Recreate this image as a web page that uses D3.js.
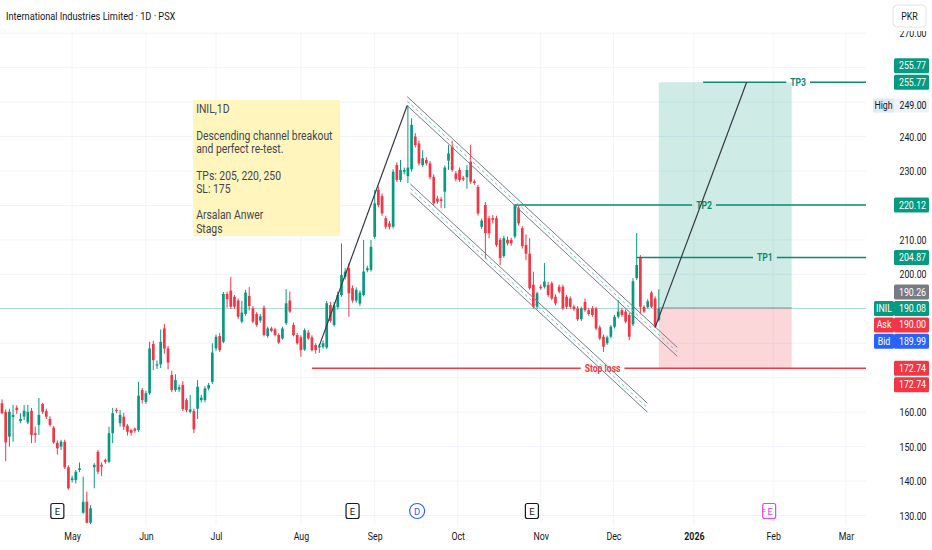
<!DOCTYPE html>
<html>
<head>
<meta charset="utf-8">
<script src="https://cdn.jsdelivr.net/npm/d3@7"></script>
<style>
  html, body { margin: 0; padding: 0; background: #fff; }
  svg { display: block; font-family: Roboto, "Noto Sans", sans-serif; }
</style>
</head>
<body>
<div id="chart"></div>
<script>
// ---- Data (daily bars, index 0 = first visible bar) ----
const opens = [
  162.6,160.1,152.9,158.6,161.3,157.4,158.7,157.0,160.4,153.9,156.3,162.4,160.3,158.0,155.5,151.1,150.0,151.4,144.0,140.3,
  140.3,143.2,130.8,134.0,127.9,144.0,148.5,144.7,146.1,145.6,153.9,160.6,156.8,158.7,156.1,154.8,155.2,154.8,166.4,163.0,
  165.5,179.8,173.5,173.9,184.3,178.5,170.8,166.4,166.6,167.9,163.5,160.1,160.3,161.0,163.5,163.5,166.9,168.8,178.5,182.1,
  180.4,194.3,195.3,193.5,192.4,186.3,188.5,193.7,190.1,188.5,186.6,190.3,182.1,184.3,184.0,182.4,181.4,185.8,192.4,185.3,
  182.4,181.7,178.2,183.1,181.7,179.5,178.8,179.0,178.8,191.1,185.3,190.5,194.0,199.3,201.8,196.0,192.4,191.5,194.0,201.2,
  201.3,210.9,224.5,222.7,216.3,214.8,213.8,231.7,227.4,229.8,228.5,230.5,240.0,238.0,231.7,233.2,232.2,228.3,222.0,221.8,
  224.0,233.0,237.0,229.3,230.3,228.0,228.2,232.7,227.0,225.4,213.8,220.1,216.3,216.3,216.3,210.0,205.3,210.0,210.0,211.0,
  219.2,213.4,208.5,206.0,197.0,190.6,196.4,196.4,196.9,197.4,193.5,196.4,196.4,193.5,193.0,190.6,190.1,187.0,192.0,189.6,
  190.1,190.1,184.6,181.9,180.0,181.9,184.8,187.7,189.6,189.2,188.2,185.5,198.9,205.0,190.5,190.5,194.7,193.0,186.7
];
const highs = [
  163.7,160.8,161.0,162.1,162.0,159.7,162.1,162.1,161.2,155.8,164.1,162.7,161.0,158.8,156.0,151.8,152.0,152.0,144.6,141.5,
  143.2,145.4,141.3,136.9,133.0,145.2,149.0,145.4,146.5,155.8,161.2,161.2,160.6,159.8,156.6,155.2,155.5,168.8,167.0,166.2,
  180.4,180.7,175.0,184.0,185.6,179.2,172.0,171.0,168.0,169.0,164.0,165.0,161.0,169.3,165.0,167.5,168.5,180.0,182.5,183.0,
  194.9,195.0,199.3,194.0,193.0,192.3,195.5,196.3,190.8,189.0,188.5,191.0,184.8,184.8,184.5,182.9,184.8,195.7,195.0,186.0,
  183.0,182.3,184.3,183.8,182.3,180.0,179.8,180.8,192.3,192.0,192.0,195.0,209.0,201.8,203.3,196.8,196.2,195.3,210.0,202.5,
  210.0,224.5,225.5,223.5,217.0,215.5,230.5,232.5,233.2,231.0,249.0,245.3,241.0,238.8,236.0,234.0,232.9,229.0,222.8,222.5,
  231.6,237.5,238.8,230.0,231.0,228.6,231.8,237.6,227.6,226.0,216.2,221.0,217.0,217.2,217.0,210.6,211.2,211.0,210.6,220.4,
  220.0,214.0,211.6,210.5,200.8,195.0,197.0,203.3,197.8,198.0,194.2,197.0,197.0,194.0,193.6,191.2,190.8,190.6,193.0,190.2,
  190.8,190.6,185.2,182.5,182.2,185.3,188.2,192.5,190.2,189.8,188.8,198.9,212.0,205.6,191.0,192.8,195.2,193.6,195.7
];
const lows = [
  159.4,145.8,150.0,151.4,159.5,156.8,157.7,156.5,151.0,151.1,153.4,159.5,158.0,155.8,150.8,147.7,149.0,143.5,137.5,139.6,
  139.3,142.6,130.5,127.7,127.5,137.9,142.0,141.4,145.0,145.2,151.0,159.7,155.8,154.8,153.2,153.2,154.0,154.3,162.5,162.4,
  165.0,172.2,172.5,172.8,177.0,172.4,165.8,165.9,165.8,160.3,160.0,159.6,153.9,158.0,162.8,162.9,166.3,168.2,177.8,177.5,
  180.0,190.3,190.0,190.0,187.0,185.8,188.0,189.5,185.8,184.8,186.0,182.0,181.6,183.2,182.0,179.8,181.0,185.3,188.8,182.0,
  179.6,176.1,177.8,181.0,177.6,177.0,177.2,178.5,178.3,186.0,184.8,189.8,193.5,198.5,187.7,191.8,191.8,190.8,193.6,200.6,
  200.8,210.3,219.5,217.0,213.2,213.0,213.3,226.8,226.8,229.0,226.5,229.8,236.8,231.6,231.2,231.6,227.6,220.0,220.5,219.3,
  219.2,230.3,229.8,227.0,226.8,227.0,224.9,226.3,226.0,217.1,213.2,204.5,210.5,214.8,208.0,202.7,204.8,208.4,208.3,210.4,
  214.2,207.5,204.1,195.5,190.0,190.0,195.5,195.9,193.5,192.5,191.0,194.5,189.6,190.0,190.0,189.4,186.5,186.5,189.1,188.0,
  187.7,183.8,180.9,177.5,179.5,181.4,184.3,187.2,187.7,185.8,180.9,185.0,198.4,188.4,188.8,190.0,190.2,184.4,186.3
];
const closes = [
  159.7,151.2,160.1,159.2,160.6,158.0,160.4,160.1,153.4,153.4,159.2,160.1,158.7,156.3,151.2,149.5,151.4,144.0,137.9,140.8,
  142.7,143.7,134.0,127.9,132.1,144.7,142.7,144.2,145.6,153.9,159.7,160.3,159.2,155.8,154.3,154.0,154.6,164.8,163.5,165.5,
  178.5,175.1,173.9,180.4,178.5,174.4,166.4,169.3,167.2,160.9,160.6,160.8,155.0,167.4,164.2,166.9,167.9,177.3,181.9,178.0,
  194.3,192.8,190.6,190.6,187.7,188.9,194.7,190.8,186.3,185.3,187.8,182.4,184.3,183.6,182.4,180.2,184.3,191.6,189.2,182.4,
  180.0,178.0,183.8,181.4,178.0,178.0,179.3,180.0,191.6,186.5,191.0,194.0,199.8,200.8,194.5,192.4,195.5,194.7,200.8,201.8,
  208.0,220.6,220.1,217.7,213.8,213.8,229.8,227.4,230.3,230.3,231.0,243.4,237.5,232.2,233.7,232.2,228.2,220.6,221.1,221.3,
  231.0,235.1,230.3,227.6,227.4,227.6,230.3,226.9,226.5,217.7,215.6,212.0,211.9,215.8,208.5,204.7,210.5,209.0,209.0,220.1,
  214.8,208.2,206.0,196.0,190.6,194.5,196.0,197.9,194.0,193.0,191.6,195.0,190.1,190.6,190.6,189.9,187.0,190.1,189.6,188.5,
  188.2,184.3,181.4,179.0,181.7,184.8,187.7,189.2,188.2,186.3,181.9,198.0,202.7,190.6,189.2,192.2,190.6,184.8,190.08
];

// time axis: month labels and the bar index where each one sits
const monthLabels = ["May", "Jun", "Jul", "Aug", "Sep", "Oct", "Nov", "Dec", "2026", "Feb", "Mar"];
const monthIdx = [19, 39, 58, 81, 101, 123.5, 146, 165.7, 187.5, 209, 228.7];

// price axis
const priceTicks = d3.range(130, 271, 10);
const tagValues = [255.77, 255.77, 220.12, 204.87, 190.26, 190.08, 190.00, 189.99, 172.74, 172.74];
const tagNames = ["", "", "", "", "", "INIL", "Ask", "Bid", "", ""];
const tagKinds = ["target", "target", "target", "target", "entry", "last", "ask", "bid", "stop", "stop"];
const highValue = 249.00;
const lastPrice = 190.08;

// horizontal levels drawn on the chart
const levelNames = ["TP3", "TP2", "TP1", "Stop loss"];
const levelPrices = [255.77, 220.12, 204.87, 172.74];
const levelStartIdx = [190, 139, 172, 84];
const levelKinds = ["target", "target", "target", "stop"];

// long position tool
const positionIdx = [178, 214];
const entryPrice = 190.26, targetPrice = 255.77, stopPrice = 172.74;

// trend lines [idx, price]
const impulseLine = [[86, 179.3], [109.8, 249.0]];
const projectionLine = [[177, 184.6], [201.8, 255.77]];
const upperBand = [[109.8, 251.6], [183, 178.8]];
const lowerBand = [[110.7, 226.2], [174.9, 162.6]];
const bandWidth = 2.6;

// note
const noteAnchor = [51.8, 250.6];
const noteLines = ["INIL,1D", "", "Descending channel breakout", "and perfect re-test.", "",
                   "TPs: 205, 220, 250", "SL: 175", "", "Arsalan Anwer", "Stags"];

// event markers on the time axis
const eventIdx = [15, 95, 112.5, 143.6, 207.9];
const eventTypes = ["earnings", "earnings", "dividend", "earnings", "upcoming"];

// ---- Drawing ----
const width = 932, height = 550;
const plotRight = 866, plotTop = 31, plotBottom = 525;
const barStep = 3.69;
const up = "#089981", down = "#f23645";
const levelGreen = "#0a8a70";
const kindColor = { target: "#089981", entry: "#787b86", last: "#089981", ask: "#f23645", bid: "#2962ff", stop: "#f23645" };

const svg = d3.select("#chart").append("svg")
  .attr("width", width).attr("height", height);
svg.append("rect").attr("width", width).attr("height", height).attr("fill", "#fff");

const x = d3.scaleLinear().domain([0, 234]).range([2, 2 + 234 * barStep]);
const y = d3.scaleLinear().domain([130, 270]).range([515.5, 33.2]);

// narrow the glyphs the way the screenshot shows them
function squeeze(sel, k = 0.8) {
  sel.each(function () {
    const w = this.getComputedTextLength();
    if (w > 0) d3.select(this).attr("textLength", w * k).attr("lengthAdjust", "spacingAndGlyphs");
  });
  return sel;
}

svg.append("clipPath").attr("id", "plotClip")
  .append("rect").attr("x", 0).attr("y", plotTop).attr("width", plotRight).attr("height", plotBottom - plotTop);

const plot = svg.append("g").attr("clip-path", "url(#plotClip)");

// grid
plot.append("g").selectAll("line").data(priceTicks).join("line")
  .attr("x1", 0).attr("x2", plotRight)
  .attr("y1", d => y(d)).attr("y2", d => y(d))
  .attr("stroke", "#f0f3fa").attr("stroke-width", 1);
plot.append("g").selectAll("line").data(monthIdx).join("line")
  .attr("x1", d => x(d)).attr("x2", d => x(d))
  .attr("y1", plotTop).attr("y2", plotBottom)
  .attr("stroke", "#f3f4f8").attr("stroke-width", 1);

// last price line
plot.append("line")
  .attr("x1", 0).attr("x2", plotRight)
  .attr("y1", y(lastPrice)).attr("y2", y(lastPrice))
  .attr("stroke", up).attr("stroke-opacity", 0.3).attr("stroke-width", 1);

// position tool
const px0 = x(positionIdx[0]), px1 = x(positionIdx[1]);
plot.append("rect")
  .attr("x", px0).attr("width", px1 - px0)
  .attr("y", y(targetPrice)).attr("height", y(entryPrice) - y(targetPrice))
  .attr("fill", up).attr("fill-opacity", 0.2);
plot.append("rect")
  .attr("x", px0).attr("width", px1 - px0)
  .attr("y", y(entryPrice)).attr("height", y(stopPrice) - y(entryPrice))
  .attr("fill", down).attr("fill-opacity", 0.2);
plot.append("line")
  .attr("x1", px0).attr("x2", px1)
  .attr("y1", y(entryPrice)).attr("y2", y(entryPrice))
  .attr("stroke", "#9598a1").attr("stroke-width", 1);

// candles
const candles = closes.map((c, i) => ({ i, o: opens[i], h: highs[i], l: lows[i], c }));
const gC = plot.append("g");
gC.selectAll("line").data(candles).join("line")
  .attr("x1", d => x(d.i)).attr("x2", d => x(d.i))
  .attr("y1", d => y(d.h)).attr("y2", d => y(d.l))
  .attr("stroke", d => d.c >= d.o ? up : down)
  .attr("stroke-width", 1);
gC.selectAll("rect").data(candles).join("rect")
  .attr("x", d => x(d.i) - 1.35).attr("width", 2.7)
  .attr("y", d => y(Math.max(d.o, d.c)))
  .attr("height", d => Math.max(1, Math.abs(y(d.o) - y(d.c))))
  .attr("fill", d => d.c >= d.o ? up : down);

// horizontal levels with their labels
const levelEndX = x(241.5);
const gL = plot.append("g");
levelNames.forEach((name, k) => {
  const yy = y(levelPrices[k]);
  const xs = x(levelStartIdx[k]);
  const cx = (xs + levelEndX) / 2;
  const col = levelKinds[k] === "stop" ? down : levelGreen;
  const t = gL.append("text")
    .attr("x", cx).attr("y", yy)
    .attr("text-anchor", "middle").attr("dominant-baseline", "central")
    .attr("font-size", 11).attr("font-weight", "bold").attr("fill", col)
    .text(name);
  const w = t.node().getComputedTextLength() * 0.78;
  squeeze(t, 0.78);
  const half = w / 2 + 4;
  [[xs, cx - half], [cx + half, levelEndX]].forEach(seg => {
    gL.append("line")
      .attr("x1", seg[0]).attr("x2", seg[1]).attr("y1", yy).attr("y2", yy)
      .attr("stroke", col).attr("stroke-width", 1.4);
  });
});

// channel bands
const line = d3.line().x(d => x(d[0])).y(d => y(d[1]));
const shift = (pts, dp) => pts.map(p => [p[0], p[1] + dp]);
[upperBand, lowerBand].forEach(band => {
  plot.append("path").attr("d", line(band))
    .attr("fill", "none").attr("stroke", "#787b86").attr("stroke-width", 1);
  plot.append("path").attr("d", line(shift(band, -bandWidth)))
    .attr("fill", "none").attr("stroke", "#787b86").attr("stroke-width", 1);
  plot.append("path").attr("d", line(shift(band, -bandWidth / 2)))
    .attr("fill", "none").attr("stroke", "#6cc9bd").attr("stroke-width", 1)
    .attr("stroke-dasharray", "3,3");
});

// trend lines
[impulseLine, projectionLine].forEach(l => {
  plot.append("path").attr("d", line(l))
    .attr("fill", "none").attr("stroke", "#363a45").attr("stroke-width", 1.2);
});

// note box
const nx = x(noteAnchor[0]), ny = y(noteAnchor[1]);
plot.append("rect")
  .attr("x", nx).attr("y", ny).attr("width", 147).attr("height", 136)
  .attr("fill", "#fff5bd");
const noteText = plot.append("g").selectAll("text").data(noteLines).join("text")
  .attr("x", nx + 3)
  .attr("y", (d, i) => ny + 13 + i * 13.3)
  .attr("font-size", 12.5).attr("fill", "#434651")
  .text(d => d);
squeeze(noteText.filter(d => d.length > 0), 0.83);

// event markers
const evY = 511;
const gE = svg.append("g");
eventIdx.forEach((ei, k) => {
  const ex = x(ei);
  const type = eventTypes[k];
  if (type === "dividend") {
    gE.append("circle").attr("cx", ex).attr("cy", evY).attr("r", 7.5)
      .attr("fill", "#fff").attr("stroke", "#2962ff").attr("stroke-width", 1.2);
    gE.append("text").attr("x", ex).attr("y", evY).attr("text-anchor", "middle")
      .attr("dominant-baseline", "central").attr("font-size", 9.5).attr("fill", "#2962ff").text("D");
  } else {
    const col = type === "upcoming" ? "#e040fb" : "#131722";
    gE.append("rect").attr("x", ex - 6.5).attr("y", evY - 7.5).attr("width", 13).attr("height", 15)
      .attr("rx", 2).attr("fill", "#fff").attr("stroke", col).attr("stroke-width", 1.2);
    gE.append("text").attr("x", ex + (type === "upcoming" ? 1 : 0)).attr("y", evY)
      .attr("text-anchor", "middle").attr("dominant-baseline", "central")
      .attr("font-size", 9.5).attr("fill", col).text("E");
    if (type === "upcoming") {
      gE.append("text").attr("x", ex - 5).attr("y", evY).attr("text-anchor", "middle")
        .attr("dominant-baseline", "central").attr("font-size", 7).attr("fill", col).text("=");
    }
  }
});

// time axis
const xAxis = svg.append("g")
  .attr("transform", `translate(0,${plotBottom + 3})`)
  .call(d3.axisBottom(x).tickValues(monthIdx).tickFormat((d, i) => monthLabels[i]).tickSize(0).tickPadding(4));
xAxis.select(".domain").remove();
xAxis.selectAll("text")
  .attr("font-size", 11).attr("font-family", "Roboto, 'Noto Sans', sans-serif")
  .attr("fill", "#131722")
  .attr("font-weight", (d, i) => monthLabels[i] === "2026" ? "bold" : "normal");
squeeze(xAxis.selectAll("text"));

// price axis panel
svg.append("rect").attr("x", plotRight).attr("y", 0).attr("width", width - plotRight).attr("height", height)
  .attr("fill", "#fff");

const tagSlot = [-1, 0, 0, 0, -1, 0, 1, 2, 0, 1];
const slotStep = 16.4;
const tagY = tagValues.map((v, k) => {
  const base = (tagKinds[k] === "entry" || tagKinds[k] === "ask" || tagKinds[k] === "bid") ? y(lastPrice) : y(v);
  return base + tagSlot[k] * slotStep;
});
const occupied = tagY.concat([y(highValue)]);

const yAxis = svg.append("g")
  .attr("transform", `translate(${plotRight},0)`)
  .call(d3.axisRight(y).tickValues(priceTicks.filter(t => occupied.every(o => Math.abs(y(t) - o) >= 13)))
    .tickFormat(d3.format(".2f")).tickSize(0).tickPadding(47));
yAxis.select(".domain").remove();
yAxis.selectAll("text")
  .attr("text-anchor", "middle").attr("font-size", 11)
  .attr("font-family", "Roboto, 'Noto Sans', sans-serif").attr("fill", "#131722");
squeeze(yAxis.selectAll("text"));

// high marker
const hy = y(highValue);
svg.append("rect").attr("x", 873).attr("y", hy - 7).attr("width", 56).attr("height", 14).attr("fill", "#eef2fa");
svg.append("rect").attr("x", 873).attr("y", hy - 7).attr("width", 21).attr("height", 14).attr("fill", "#e1e9f7");
squeeze(svg.append("text").attr("x", 883.5).attr("y", hy).attr("text-anchor", "middle")
  .attr("dominant-baseline", "central").attr("font-size", 11).attr("fill", "#131722").text("High"));
squeeze(svg.append("text").attr("x", 913).attr("y", hy).attr("text-anchor", "middle")
  .attr("dominant-baseline", "central").attr("font-size", 11).attr("fill", "#131722").text(d3.format(".2f")(highValue)));

// price tags
const gT = svg.append("g");
tagValues.forEach((v, k) => {
  const ty = tagY[k];
  const col = kindColor[tagKinds[k]];
  gT.append("rect").attr("x", 894).attr("y", ty - 7.5).attr("width", 35).attr("height", 15)
    .attr("rx", 1.5).attr("fill", col);
  squeeze(gT.append("text").attr("x", 912.5).attr("y", ty).attr("text-anchor", "middle")
    .attr("dominant-baseline", "central").attr("font-size", 11).attr("fill", "#fff")
    .text(d3.format(".2f")(v)));
  if (tagNames[k]) {
    gT.append("rect").attr("x", 874).attr("y", ty - 7.5).attr("width", 20).attr("height", 15)
      .attr("rx", 1.5).attr("fill", col);
    squeeze(gT.append("text").attr("x", 884).attr("y", ty).attr("text-anchor", "middle")
      .attr("dominant-baseline", "central").attr("font-size", 11).attr("fill", "#fff")
      .text(tagNames[k]));
  }
});

// header
svg.append("rect").attr("x", 0).attr("y", 0).attr("width", width).attr("height", plotTop).attr("fill", "#fff");
squeeze(svg.append("text").attr("x", 6).attr("y", 20).attr("font-size", 11.5).attr("fill", "#131722")
  .text("International Industries Limited · 1D · PSX"), 0.8);
svg.append("rect").attr("x", 893).attr("y", 5).attr("width", 33).attr("height", 22).attr("rx", 4)
  .attr("fill", "#fff").attr("stroke", "#e0e3eb");
squeeze(svg.append("text").attr("x", 909.5).attr("y", 16).attr("text-anchor", "middle")
  .attr("dominant-baseline", "central").attr("font-size", 11).attr("fill", "#131722").text("PKR"));
</script>
</body>
</html>
